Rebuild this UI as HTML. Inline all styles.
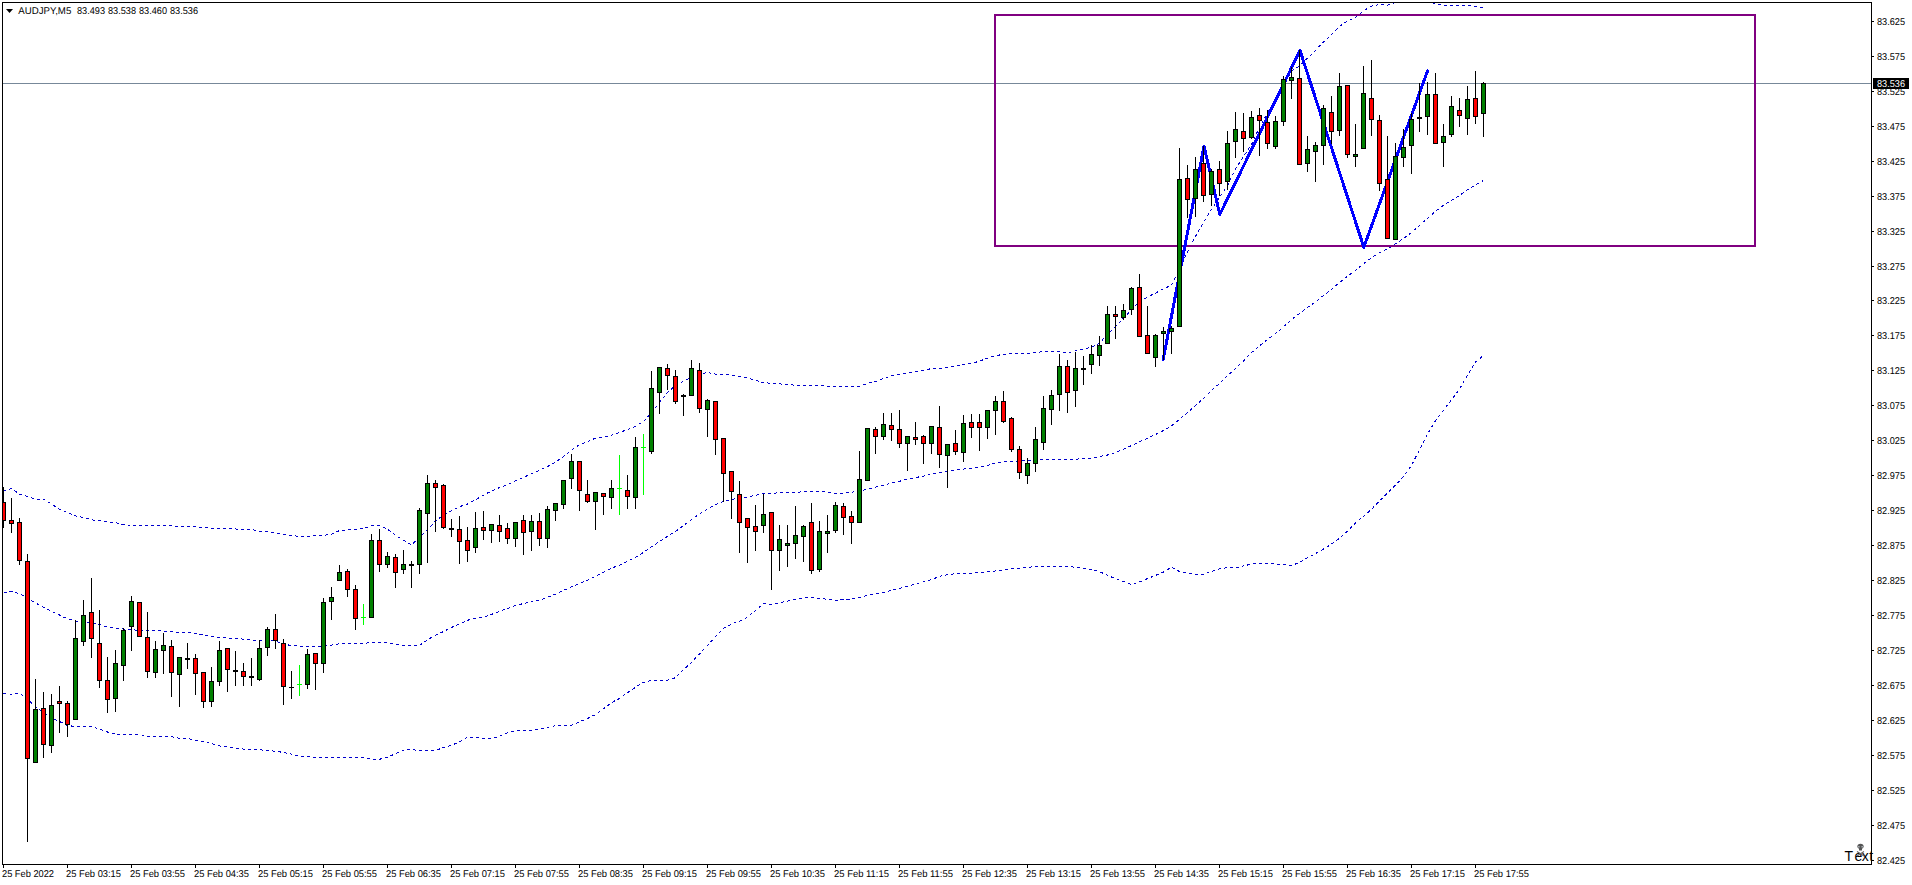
<!DOCTYPE html><html><head><meta charset="utf-8"><style>
html,body{margin:0;padding:0;background:#fff;}body{width:1912px;height:885px;overflow:hidden;position:relative;font-family:"Liberation Sans",sans-serif;}
svg{display:block;position:absolute;left:0;top:0}
.ax{font-family:"Liberation Sans",sans-serif;font-size:9.9px;fill:#000;text-rendering:geometricPrecision}
</style></head><body>
<svg width="1912" height="885" viewBox="0 0 1912 885">
<rect x="0" y="0" width="1912" height="885" fill="#fff"/>
<defs><clipPath id="c"><rect x="3" y="3" width="1868" height="861"/></clipPath></defs>
<g clip-path="url(#c)">
<path d="M3.5 491.3 L11.5 488.6 L19.5 494.1 L27.5 496.4 L35.5 499.1 L43.5 499.3 L51.5 504.1 L59.5 509.1 L67.5 512.4 L75.5 515.9 L83.5 517.4 L91.5 519.8 L99.5 520.8 L107.5 521.7 L115.5 522.6 L123.5 524.5 L131.5 525.5 L139.5 525.5 L147.5 525.5 L155.5 525.5 L163.5 525.5 L171.5 525.9 L179.5 526.5 L187.5 526.8 L195.5 527.0 L203.5 527.3 L211.5 528.4 L219.5 528.6 L227.5 528.8 L235.5 529.0 L243.5 529.2 L251.5 529.4 L259.5 531.2 L267.5 531.5 L275.5 533.0 L283.5 534.2 L291.5 535.8 L299.5 536.2 L307.5 536.1 L315.5 535.9 L323.5 535.4 L331.5 534.2 L339.5 530.5 L347.5 529.8 L355.5 529.6 L363.5 528.6 L371.5 525.9 L379.5 525.4 L387.5 529.3 L395.5 535.3 L403.5 540.3 L411.5 544.8 L419.5 537.8 L427.5 529.6 L435.5 521.0 L443.5 515.2 L451.5 510.7 L459.5 506.7 L467.5 504.0 L475.5 499.8 L483.5 495.1 L491.5 490.9 L499.5 487.6 L507.5 484.7 L515.5 480.9 L523.5 477.5 L531.5 473.6 L539.5 470.3 L547.5 466.5 L555.5 462.2 L563.5 456.5 L571.5 449.9 L579.5 444.6 L587.5 441.5 L595.5 438.2 L603.5 436.9 L611.5 435.3 L619.5 432.3 L627.5 429.7 L635.5 426.2 L643.5 421.6 L651.5 412.8 L659.5 402.6 L667.5 392.3 L675.5 385.6 L683.5 381.3 L691.5 376.9 L699.5 374.1 L707.5 372.5 L715.5 374.1 L723.5 374.5 L731.5 375.3 L739.5 376.4 L747.5 377.7 L755.5 380.4 L763.5 382.6 L771.5 383.4 L779.5 383.9 L787.5 384.6 L795.5 385.2 L803.5 385.3 L811.5 385.4 L819.5 385.5 L827.5 386.5 L835.5 386.5 L843.5 386.5 L851.5 386.5 L859.5 386.5 L867.5 383.3 L875.5 381.6 L883.5 378.5 L891.5 376.0 L899.5 374.6 L907.5 373.3 L915.5 372.0 L923.5 370.5 L931.5 368.5 L939.5 368.5 L947.5 367.5 L955.5 366.2 L963.5 364.8 L971.5 363.5 L979.5 361.1 L987.5 358.2 L995.5 355.7 L1003.5 354.3 L1011.5 353.4 L1019.5 353.2 L1027.5 353.2 L1035.5 352.8 L1043.5 351.5 L1051.5 351.4 L1059.5 351.4 L1067.5 352.9 L1075.5 350.8 L1083.5 348.9 L1091.5 347.3 L1099.5 343.1 L1107.5 334.4 L1115.5 326.5 L1123.5 318.0 L1131.5 309.8 L1139.5 301.6 L1147.5 297.0 L1155.5 293.1 L1163.5 288.8 L1171.5 285.3 L1179.5 269.1 L1187.5 251.9 L1195.5 236.5 L1203.5 222.2 L1211.5 209.5 L1219.5 197.3 L1227.5 185.7 L1235.5 168.8 L1243.5 156.6 L1251.5 144.6 L1259.5 127.2 L1267.5 113.2 L1275.5 99.2 L1283.5 85.1 L1291.5 71.1 L1299.5 65.9 L1307.5 58.1 L1315.5 50.5 L1323.5 41.8 L1331.5 34.7 L1339.5 26.2 L1347.5 21.2 L1355.5 17.4 L1363.5 10.8 L1371.5 6.1 L1379.5 4.5 L1387.5 5.1 L1395.5 2.4 L1403.5 -1.6 L1411.5 -3.2 L1419.5 -3.1 L1427.5 -1.2 L1435.5 4.4 L1443.5 5.2 L1451.5 5.2 L1459.5 5.2 L1467.5 5.2 L1475.5 6.6 L1483.5 7.5" fill="none" stroke="#0000cd" stroke-width="1" stroke-dasharray="3 3" shape-rendering="crispEdges"/>
<path d="M3.5 592.3 L11.5 591.7 L19.5 593.6 L27.5 598.1 L35.5 603.0 L43.5 607.1 L51.5 611.2 L59.5 615.0 L67.5 618.9 L75.5 621.0 L83.5 621.9 L91.5 622.8 L99.5 624.5 L107.5 627.3 L115.5 628.3 L123.5 629.1 L131.5 629.5 L139.5 630.6 L147.5 630.5 L155.5 630.4 L163.5 631.1 L171.5 631.9 L179.5 632.3 L187.5 632.8 L195.5 633.3 L203.5 635.0 L211.5 636.7 L219.5 637.6 L227.5 638.0 L235.5 638.4 L243.5 639.1 L251.5 640.3 L259.5 640.3 L267.5 640.4 L275.5 641.0 L283.5 644.2 L291.5 645.5 L299.5 646.1 L307.5 646.2 L315.5 646.2 L323.5 646.0 L331.5 645.1 L339.5 643.8 L347.5 643.6 L355.5 643.6 L363.5 643.6 L371.5 642.3 L379.5 642.3 L387.5 642.3 L395.5 644.7 L403.5 645.4 L411.5 646.0 L419.5 645.4 L427.5 639.7 L435.5 635.3 L443.5 631.5 L451.5 627.4 L459.5 624.0 L467.5 620.2 L475.5 618.6 L483.5 617.2 L491.5 614.4 L499.5 611.4 L507.5 608.5 L515.5 605.6 L523.5 603.5 L531.5 601.9 L539.5 600.1 L547.5 597.3 L555.5 594.2 L563.5 590.5 L571.5 586.8 L579.5 583.5 L587.5 580.4 L595.5 576.4 L603.5 572.4 L611.5 568.2 L619.5 565.1 L627.5 561.3 L635.5 557.4 L643.5 552.4 L651.5 546.9 L659.5 541.5 L667.5 536.4 L675.5 531.4 L683.5 525.5 L691.5 519.5 L699.5 513.8 L707.5 508.9 L715.5 504.7 L723.5 501.5 L731.5 499.3 L739.5 498.3 L747.5 496.9 L755.5 495.4 L763.5 493.3 L771.5 493.3 L779.5 492.8 L787.5 492.5 L795.5 492.4 L803.5 491.7 L811.5 491.7 L819.5 491.8 L827.5 492.1 L835.5 493.2 L843.5 493.4 L851.5 492.3 L859.5 490.7 L867.5 489.4 L875.5 487.1 L883.5 485.1 L891.5 483.2 L899.5 481.3 L907.5 479.0 L915.5 477.5 L923.5 476.2 L931.5 473.9 L939.5 472.5 L947.5 471.2 L955.5 470.1 L963.5 469.1 L971.5 468.2 L979.5 466.9 L987.5 465.4 L995.5 463.2 L1003.5 461.9 L1011.5 461.4 L1019.5 460.8 L1027.5 460.4 L1035.5 459.9 L1043.5 459.3 L1051.5 459.3 L1059.5 459.3 L1067.5 459.3 L1075.5 459.3 L1083.5 458.3 L1091.5 458.1 L1099.5 456.4 L1107.5 455.0 L1115.5 452.4 L1123.5 449.3 L1131.5 445.5 L1139.5 441.8 L1147.5 438.3 L1155.5 434.5 L1163.5 430.5 L1171.5 425.7 L1179.5 419.4 L1187.5 412.6 L1195.5 405.3 L1203.5 398.4 L1211.5 390.6 L1219.5 383.4 L1227.5 375.8 L1235.5 368.3 L1243.5 360.9 L1251.5 352.6 L1259.5 345.9 L1267.5 339.4 L1275.5 333.7 L1283.5 326.7 L1291.5 319.7 L1299.5 313.4 L1307.5 307.4 L1315.5 302.0 L1323.5 295.5 L1331.5 289.4 L1339.5 282.6 L1347.5 276.3 L1355.5 270.5 L1363.5 263.7 L1371.5 257.7 L1379.5 252.8 L1387.5 248.9 L1395.5 243.9 L1403.5 238.4 L1411.5 232.5 L1419.5 225.4 L1427.5 218.3 L1435.5 211.3 L1443.5 205.2 L1451.5 200.5 L1459.5 195.3 L1467.5 189.9 L1475.5 184.9 L1483.5 180.5" fill="none" stroke="#0000cd" stroke-width="1" stroke-dasharray="3 3" shape-rendering="crispEdges"/>
<path d="M3.5 693.4 L11.5 694.1 L19.5 692.7 L27.5 699.2 L35.5 706.7 L43.5 712.8 L51.5 717.9 L59.5 721.5 L67.5 725.6 L75.5 726.4 L83.5 726.4 L91.5 726.4 L99.5 729.2 L107.5 732.0 L115.5 734.2 L123.5 734.4 L131.5 734.4 L139.5 734.4 L147.5 736.5 L155.5 736.5 L163.5 736.5 L171.5 736.8 L179.5 738.2 L187.5 738.2 L195.5 740.5 L203.5 741.7 L211.5 743.5 L219.5 746.0 L227.5 747.1 L235.5 748.2 L243.5 749.1 L251.5 749.6 L259.5 749.7 L267.5 750.6 L275.5 751.2 L283.5 752.5 L291.5 754.1 L299.5 756.1 L307.5 756.5 L315.5 757.4 L323.5 757.5 L331.5 757.5 L339.5 757.5 L347.5 757.5 L355.5 757.5 L363.5 758.0 L371.5 759.3 L379.5 759.3 L387.5 757.1 L395.5 753.7 L403.5 750.3 L411.5 749.2 L419.5 751.0 L427.5 750.4 L435.5 750.6 L443.5 747.5 L451.5 745.2 L459.5 742.1 L467.5 737.3 L475.5 737.4 L483.5 738.4 L491.5 738.4 L499.5 736.3 L507.5 732.6 L515.5 730.7 L523.5 730.3 L531.5 730.3 L539.5 729.3 L547.5 727.3 L555.5 725.7 L563.5 725.2 L571.5 725.2 L579.5 721.9 L587.5 718.5 L595.5 714.6 L603.5 708.8 L611.5 702.6 L619.5 698.5 L627.5 692.7 L635.5 687.3 L643.5 682.3 L651.5 680.3 L659.5 680.1 L667.5 680.1 L675.5 677.7 L683.5 669.7 L691.5 662.4 L699.5 654.0 L707.5 645.6 L715.5 636.6 L723.5 628.5 L731.5 624.0 L739.5 621.1 L747.5 617.1 L755.5 610.4 L763.5 603.8 L771.5 604.4 L779.5 602.8 L787.5 601.1 L795.5 599.1 L803.5 597.8 L811.5 597.5 L819.5 598.4 L827.5 599.3 L835.5 600.3 L843.5 599.5 L851.5 599.1 L859.5 597.4 L867.5 595.3 L875.5 593.6 L883.5 592.3 L891.5 590.4 L899.5 588.3 L907.5 586.3 L915.5 584.0 L923.5 581.9 L931.5 579.7 L939.5 576.3 L947.5 574.7 L955.5 573.7 L963.5 573.3 L971.5 573.3 L979.5 572.5 L987.5 571.8 L995.5 571.0 L1003.5 569.7 L1011.5 568.4 L1019.5 568.1 L1027.5 567.4 L1035.5 566.5 L1043.5 567.0 L1051.5 566.6 L1059.5 566.5 L1067.5 566.5 L1075.5 567.2 L1083.5 568.3 L1091.5 569.6 L1099.5 571.6 L1107.5 575.3 L1115.5 578.8 L1123.5 581.5 L1131.5 584.4 L1139.5 582.0 L1147.5 578.6 L1155.5 575.5 L1163.5 572.0 L1171.5 567.1 L1179.5 571.5 L1187.5 573.1 L1195.5 574.6 L1203.5 574.2 L1211.5 571.5 L1219.5 568.8 L1227.5 567.7 L1235.5 567.9 L1243.5 565.9 L1251.5 564.1 L1259.5 563.4 L1267.5 563.4 L1275.5 563.8 L1283.5 564.7 L1291.5 565.8 L1299.5 562.3 L1307.5 557.9 L1315.5 553.6 L1323.5 549.0 L1331.5 544.1 L1339.5 538.4 L1347.5 531.1 L1355.5 522.8 L1363.5 516.4 L1371.5 509.4 L1379.5 500.8 L1387.5 493.1 L1395.5 485.1 L1403.5 476.6 L1411.5 465.5 L1419.5 449.7 L1427.5 434.2 L1435.5 420.7 L1443.5 410.1 L1451.5 399.8 L1459.5 389.1 L1467.5 375.1 L1475.5 362.1 L1483.5 355.4" fill="none" stroke="#0000cd" stroke-width="1" stroke-dasharray="3 3" shape-rendering="crispEdges"/>
<rect x="3" y="83" width="1868" height="1" fill="#778899"/>
<rect x="995" y="15" width="760" height="231" fill="none" stroke="#800080" stroke-width="2" shape-rendering="crispEdges"/>
<polyline points="1163.2,359.5 1204.0,146.1 1219.8,214.5 1300.0,50.5 1363.8,247.3 1427.5,71.0" fill="none" stroke="#0000ff" stroke-width="3" stroke-linejoin="round" stroke-linecap="round" shape-rendering="crispEdges"/>
<g shape-rendering="crispEdges">
<rect x="3" y="487" width="1" height="41" fill="#000"/>
<rect x="1" y="502" width="5" height="19" fill="#000"/>
<rect x="2" y="503" width="3" height="17" fill="#ff0000"/>
<rect x="11" y="498" width="1" height="35" fill="#000"/>
<rect x="9" y="520" width="5" height="4" fill="#000"/>
<rect x="10" y="521" width="3" height="2" fill="#ff0000"/>
<rect x="19" y="518" width="1" height="47" fill="#000"/>
<rect x="17" y="522" width="5" height="39" fill="#000"/>
<rect x="18" y="523" width="3" height="37" fill="#ff0000"/>
<rect x="27" y="554" width="1" height="288" fill="#000"/>
<rect x="25" y="561" width="5" height="198" fill="#000"/>
<rect x="26" y="562" width="3" height="196" fill="#ff0000"/>
<rect x="35" y="679" width="1" height="84" fill="#000"/>
<rect x="33" y="709" width="5" height="54" fill="#000"/>
<rect x="34" y="710" width="3" height="52" fill="#008000"/>
<rect x="43" y="692" width="1" height="66" fill="#000"/>
<rect x="41" y="708" width="5" height="37" fill="#000"/>
<rect x="42" y="709" width="3" height="35" fill="#ff0000"/>
<rect x="51" y="694" width="1" height="59" fill="#000"/>
<rect x="49" y="705" width="5" height="41" fill="#000"/>
<rect x="50" y="706" width="3" height="39" fill="#008000"/>
<rect x="59" y="686" width="1" height="47" fill="#000"/>
<rect x="57" y="701" width="5" height="3" fill="#000"/>
<rect x="58" y="702" width="3" height="1" fill="#ff0000"/>
<rect x="67" y="701" width="1" height="36" fill="#000"/>
<rect x="65" y="703" width="5" height="22" fill="#000"/>
<rect x="66" y="704" width="3" height="20" fill="#ff0000"/>
<rect x="75" y="620" width="1" height="100" fill="#000"/>
<rect x="73" y="638" width="5" height="82" fill="#000"/>
<rect x="74" y="639" width="3" height="80" fill="#008000"/>
<rect x="83" y="600" width="1" height="46" fill="#000"/>
<rect x="81" y="615" width="5" height="27" fill="#000"/>
<rect x="82" y="616" width="3" height="25" fill="#008000"/>
<rect x="91" y="578" width="1" height="80" fill="#000"/>
<rect x="89" y="612" width="5" height="27" fill="#000"/>
<rect x="90" y="613" width="3" height="25" fill="#ff0000"/>
<rect x="99" y="610" width="1" height="78" fill="#000"/>
<rect x="97" y="643" width="5" height="38" fill="#000"/>
<rect x="98" y="644" width="3" height="36" fill="#ff0000"/>
<rect x="107" y="657" width="1" height="56" fill="#000"/>
<rect x="105" y="680" width="5" height="20" fill="#000"/>
<rect x="106" y="681" width="3" height="18" fill="#ff0000"/>
<rect x="115" y="650" width="1" height="62" fill="#000"/>
<rect x="113" y="663" width="5" height="36" fill="#000"/>
<rect x="114" y="664" width="3" height="34" fill="#008000"/>
<rect x="123" y="628" width="1" height="53" fill="#000"/>
<rect x="121" y="630" width="5" height="36" fill="#000"/>
<rect x="122" y="631" width="3" height="34" fill="#008000"/>
<rect x="131" y="596" width="1" height="55" fill="#000"/>
<rect x="129" y="601" width="5" height="26" fill="#000"/>
<rect x="130" y="602" width="3" height="24" fill="#008000"/>
<rect x="139" y="602" width="1" height="35" fill="#000"/>
<rect x="137" y="602" width="5" height="35" fill="#000"/>
<rect x="138" y="603" width="3" height="33" fill="#ff0000"/>
<rect x="147" y="612" width="1" height="66" fill="#000"/>
<rect x="145" y="637" width="5" height="35" fill="#000"/>
<rect x="146" y="638" width="3" height="33" fill="#ff0000"/>
<rect x="155" y="641" width="1" height="37" fill="#000"/>
<rect x="153" y="649" width="5" height="24" fill="#000"/>
<rect x="154" y="650" width="3" height="22" fill="#008000"/>
<rect x="163" y="633" width="1" height="41" fill="#000"/>
<rect x="161" y="645" width="5" height="6" fill="#000"/>
<rect x="162" y="646" width="3" height="4" fill="#008000"/>
<rect x="171" y="640" width="1" height="57" fill="#000"/>
<rect x="169" y="646" width="5" height="27" fill="#000"/>
<rect x="170" y="647" width="3" height="25" fill="#ff0000"/>
<rect x="179" y="657" width="1" height="50" fill="#000"/>
<rect x="177" y="657" width="5" height="18" fill="#000"/>
<rect x="178" y="658" width="3" height="16" fill="#008000"/>
<rect x="187" y="643" width="1" height="26" fill="#000"/>
<rect x="185" y="658" width="5" height="2" fill="#000"/>
<rect x="195" y="654" width="1" height="41" fill="#000"/>
<rect x="193" y="658" width="5" height="16" fill="#000"/>
<rect x="194" y="659" width="3" height="14" fill="#ff0000"/>
<rect x="203" y="672" width="1" height="36" fill="#000"/>
<rect x="201" y="672" width="5" height="30" fill="#000"/>
<rect x="202" y="673" width="3" height="28" fill="#ff0000"/>
<rect x="211" y="667" width="1" height="40" fill="#000"/>
<rect x="209" y="681" width="5" height="21" fill="#000"/>
<rect x="210" y="682" width="3" height="19" fill="#008000"/>
<rect x="219" y="641" width="1" height="45" fill="#000"/>
<rect x="217" y="650" width="5" height="32" fill="#000"/>
<rect x="218" y="651" width="3" height="30" fill="#008000"/>
<rect x="227" y="648" width="1" height="44" fill="#000"/>
<rect x="225" y="648" width="5" height="22" fill="#000"/>
<rect x="226" y="649" width="3" height="20" fill="#ff0000"/>
<rect x="235" y="651" width="1" height="35" fill="#000"/>
<rect x="233" y="670" width="5" height="2" fill="#000"/>
<rect x="243" y="663" width="1" height="23" fill="#000"/>
<rect x="241" y="671" width="5" height="6" fill="#000"/>
<rect x="242" y="672" width="3" height="4" fill="#ff0000"/>
<rect x="251" y="658" width="1" height="28" fill="#000"/>
<rect x="249" y="676" width="5" height="2" fill="#000"/>
<rect x="259" y="640" width="1" height="41" fill="#000"/>
<rect x="257" y="648" width="5" height="32" fill="#000"/>
<rect x="258" y="649" width="3" height="30" fill="#008000"/>
<rect x="267" y="627" width="1" height="29" fill="#000"/>
<rect x="265" y="629" width="5" height="19" fill="#000"/>
<rect x="266" y="630" width="3" height="17" fill="#008000"/>
<rect x="275" y="614" width="1" height="35" fill="#000"/>
<rect x="273" y="629" width="5" height="12" fill="#000"/>
<rect x="274" y="630" width="3" height="10" fill="#ff0000"/>
<rect x="283" y="639" width="1" height="66" fill="#000"/>
<rect x="281" y="643" width="5" height="44" fill="#000"/>
<rect x="282" y="644" width="3" height="42" fill="#ff0000"/>
<rect x="291" y="671" width="1" height="28" fill="#000"/>
<rect x="289" y="687" width="5" height="1" fill="#000"/>
<rect x="299" y="665" width="1" height="31" fill="#00ff00"/>
<rect x="297" y="684" width="5" height="1" fill="#00ff00"/>
<rect x="307" y="649" width="1" height="40" fill="#000"/>
<rect x="305" y="654" width="5" height="31" fill="#000"/>
<rect x="306" y="655" width="3" height="29" fill="#008000"/>
<rect x="315" y="653" width="1" height="37" fill="#000"/>
<rect x="313" y="653" width="5" height="11" fill="#000"/>
<rect x="314" y="654" width="3" height="9" fill="#ff0000"/>
<rect x="323" y="598" width="1" height="75" fill="#000"/>
<rect x="321" y="602" width="5" height="62" fill="#000"/>
<rect x="322" y="603" width="3" height="60" fill="#008000"/>
<rect x="331" y="587" width="1" height="33" fill="#000"/>
<rect x="329" y="597" width="5" height="5" fill="#000"/>
<rect x="330" y="598" width="3" height="3" fill="#008000"/>
<rect x="339" y="565" width="1" height="16" fill="#000"/>
<rect x="337" y="572" width="5" height="9" fill="#000"/>
<rect x="338" y="573" width="3" height="7" fill="#008000"/>
<rect x="347" y="569" width="1" height="28" fill="#000"/>
<rect x="345" y="571" width="5" height="19" fill="#000"/>
<rect x="346" y="572" width="3" height="17" fill="#ff0000"/>
<rect x="355" y="585" width="1" height="45" fill="#000"/>
<rect x="353" y="589" width="5" height="30" fill="#000"/>
<rect x="354" y="590" width="3" height="28" fill="#ff0000"/>
<rect x="363" y="604" width="1" height="21" fill="#00ff00"/>
<rect x="361" y="617" width="5" height="1" fill="#00ff00"/>
<rect x="371" y="534" width="1" height="84" fill="#000"/>
<rect x="369" y="540" width="5" height="78" fill="#000"/>
<rect x="370" y="541" width="3" height="76" fill="#008000"/>
<rect x="379" y="529" width="1" height="43" fill="#000"/>
<rect x="377" y="540" width="5" height="25" fill="#000"/>
<rect x="378" y="541" width="3" height="23" fill="#ff0000"/>
<rect x="387" y="552" width="1" height="16" fill="#000"/>
<rect x="385" y="556" width="5" height="9" fill="#000"/>
<rect x="386" y="557" width="3" height="7" fill="#008000"/>
<rect x="395" y="554" width="1" height="34" fill="#000"/>
<rect x="393" y="557" width="5" height="16" fill="#000"/>
<rect x="394" y="558" width="3" height="14" fill="#ff0000"/>
<rect x="403" y="550" width="1" height="24" fill="#000"/>
<rect x="401" y="564" width="5" height="6" fill="#000"/>
<rect x="402" y="565" width="3" height="4" fill="#008000"/>
<rect x="411" y="561" width="1" height="27" fill="#000"/>
<rect x="409" y="564" width="5" height="2" fill="#000"/>
<rect x="419" y="508" width="1" height="66" fill="#000"/>
<rect x="417" y="510" width="5" height="55" fill="#000"/>
<rect x="418" y="511" width="3" height="53" fill="#008000"/>
<rect x="427" y="475" width="1" height="88" fill="#000"/>
<rect x="425" y="483" width="5" height="31" fill="#000"/>
<rect x="426" y="484" width="3" height="29" fill="#008000"/>
<rect x="435" y="480" width="1" height="52" fill="#000"/>
<rect x="433" y="483" width="5" height="5" fill="#000"/>
<rect x="434" y="484" width="3" height="3" fill="#ff0000"/>
<rect x="443" y="484" width="1" height="45" fill="#000"/>
<rect x="441" y="485" width="5" height="43" fill="#000"/>
<rect x="442" y="486" width="3" height="41" fill="#ff0000"/>
<rect x="451" y="519" width="1" height="18" fill="#000"/>
<rect x="449" y="528" width="5" height="2" fill="#000"/>
<rect x="459" y="516" width="1" height="48" fill="#000"/>
<rect x="457" y="529" width="5" height="13" fill="#000"/>
<rect x="458" y="530" width="3" height="11" fill="#ff0000"/>
<rect x="467" y="527" width="1" height="35" fill="#000"/>
<rect x="465" y="540" width="5" height="11" fill="#000"/>
<rect x="466" y="541" width="3" height="9" fill="#ff0000"/>
<rect x="475" y="512" width="1" height="41" fill="#000"/>
<rect x="473" y="528" width="5" height="20" fill="#000"/>
<rect x="474" y="529" width="3" height="18" fill="#008000"/>
<rect x="483" y="511" width="1" height="29" fill="#000"/>
<rect x="481" y="527" width="5" height="4" fill="#000"/>
<rect x="482" y="528" width="3" height="2" fill="#ff0000"/>
<rect x="491" y="524" width="1" height="19" fill="#000"/>
<rect x="489" y="524" width="5" height="7" fill="#000"/>
<rect x="490" y="525" width="3" height="5" fill="#008000"/>
<rect x="499" y="515" width="1" height="27" fill="#000"/>
<rect x="497" y="525" width="5" height="7" fill="#000"/>
<rect x="498" y="526" width="3" height="5" fill="#ff0000"/>
<rect x="507" y="523" width="1" height="21" fill="#000"/>
<rect x="505" y="528" width="5" height="11" fill="#000"/>
<rect x="506" y="529" width="3" height="9" fill="#ff0000"/>
<rect x="515" y="522" width="1" height="25" fill="#000"/>
<rect x="513" y="522" width="5" height="17" fill="#000"/>
<rect x="514" y="523" width="3" height="15" fill="#008000"/>
<rect x="523" y="515" width="1" height="40" fill="#000"/>
<rect x="521" y="520" width="5" height="13" fill="#000"/>
<rect x="522" y="521" width="3" height="11" fill="#ff0000"/>
<rect x="531" y="515" width="1" height="36" fill="#000"/>
<rect x="529" y="521" width="5" height="11" fill="#000"/>
<rect x="530" y="522" width="3" height="9" fill="#008000"/>
<rect x="539" y="513" width="1" height="33" fill="#000"/>
<rect x="537" y="521" width="5" height="18" fill="#000"/>
<rect x="538" y="522" width="3" height="16" fill="#ff0000"/>
<rect x="547" y="506" width="1" height="42" fill="#000"/>
<rect x="545" y="509" width="5" height="30" fill="#000"/>
<rect x="546" y="510" width="3" height="28" fill="#008000"/>
<rect x="555" y="503" width="1" height="18" fill="#000"/>
<rect x="553" y="503" width="5" height="8" fill="#000"/>
<rect x="554" y="504" width="3" height="6" fill="#008000"/>
<rect x="563" y="480" width="1" height="29" fill="#000"/>
<rect x="561" y="480" width="5" height="25" fill="#000"/>
<rect x="562" y="481" width="3" height="23" fill="#008000"/>
<rect x="571" y="454" width="1" height="35" fill="#000"/>
<rect x="569" y="461" width="5" height="18" fill="#000"/>
<rect x="570" y="462" width="3" height="16" fill="#008000"/>
<rect x="579" y="461" width="1" height="50" fill="#000"/>
<rect x="577" y="461" width="5" height="30" fill="#000"/>
<rect x="578" y="462" width="3" height="28" fill="#ff0000"/>
<rect x="587" y="480" width="1" height="23" fill="#000"/>
<rect x="585" y="494" width="5" height="8" fill="#000"/>
<rect x="586" y="495" width="3" height="6" fill="#ff0000"/>
<rect x="595" y="492" width="1" height="38" fill="#000"/>
<rect x="593" y="492" width="5" height="10" fill="#000"/>
<rect x="594" y="493" width="3" height="8" fill="#008000"/>
<rect x="603" y="493" width="1" height="22" fill="#000"/>
<rect x="601" y="493" width="5" height="4" fill="#000"/>
<rect x="602" y="494" width="3" height="2" fill="#ff0000"/>
<rect x="611" y="480" width="1" height="29" fill="#000"/>
<rect x="609" y="488" width="5" height="10" fill="#000"/>
<rect x="610" y="489" width="3" height="8" fill="#008000"/>
<rect x="619" y="455" width="1" height="60" fill="#00ff00"/>
<rect x="617" y="488" width="5" height="1" fill="#00ff00"/>
<rect x="627" y="475" width="1" height="34" fill="#000"/>
<rect x="625" y="490" width="5" height="7" fill="#000"/>
<rect x="626" y="491" width="3" height="5" fill="#ff0000"/>
<rect x="635" y="437" width="1" height="72" fill="#000"/>
<rect x="633" y="447" width="5" height="51" fill="#000"/>
<rect x="634" y="448" width="3" height="49" fill="#008000"/>
<rect x="643" y="434" width="1" height="61" fill="#00ff00"/>
<rect x="641" y="447" width="5" height="1" fill="#00ff00"/>
<rect x="651" y="371" width="1" height="83" fill="#000"/>
<rect x="649" y="388" width="5" height="64" fill="#000"/>
<rect x="650" y="389" width="3" height="62" fill="#008000"/>
<rect x="659" y="367" width="1" height="47" fill="#000"/>
<rect x="657" y="367" width="5" height="26" fill="#000"/>
<rect x="658" y="368" width="3" height="24" fill="#008000"/>
<rect x="667" y="364" width="1" height="26" fill="#000"/>
<rect x="665" y="368" width="5" height="8" fill="#000"/>
<rect x="666" y="369" width="3" height="6" fill="#ff0000"/>
<rect x="675" y="370" width="1" height="34" fill="#000"/>
<rect x="673" y="376" width="5" height="26" fill="#000"/>
<rect x="674" y="377" width="3" height="24" fill="#ff0000"/>
<rect x="683" y="394" width="1" height="22" fill="#000"/>
<rect x="681" y="395" width="5" height="2" fill="#000"/>
<rect x="691" y="360" width="1" height="36" fill="#000"/>
<rect x="689" y="368" width="5" height="28" fill="#000"/>
<rect x="690" y="369" width="3" height="26" fill="#008000"/>
<rect x="699" y="363" width="1" height="50" fill="#000"/>
<rect x="697" y="370" width="5" height="39" fill="#000"/>
<rect x="698" y="371" width="3" height="37" fill="#ff0000"/>
<rect x="707" y="399" width="1" height="38" fill="#000"/>
<rect x="705" y="400" width="5" height="10" fill="#000"/>
<rect x="706" y="401" width="3" height="8" fill="#008000"/>
<rect x="715" y="401" width="1" height="54" fill="#000"/>
<rect x="713" y="401" width="5" height="39" fill="#000"/>
<rect x="714" y="402" width="3" height="37" fill="#ff0000"/>
<rect x="723" y="438" width="1" height="64" fill="#000"/>
<rect x="721" y="438" width="5" height="36" fill="#000"/>
<rect x="722" y="439" width="3" height="34" fill="#ff0000"/>
<rect x="731" y="471" width="1" height="48" fill="#000"/>
<rect x="729" y="471" width="5" height="21" fill="#000"/>
<rect x="730" y="472" width="3" height="19" fill="#ff0000"/>
<rect x="739" y="481" width="1" height="72" fill="#000"/>
<rect x="737" y="494" width="5" height="29" fill="#000"/>
<rect x="738" y="495" width="3" height="27" fill="#ff0000"/>
<rect x="747" y="518" width="1" height="45" fill="#000"/>
<rect x="745" y="518" width="5" height="10" fill="#000"/>
<rect x="746" y="519" width="3" height="8" fill="#ff0000"/>
<rect x="755" y="505" width="1" height="46" fill="#000"/>
<rect x="753" y="526" width="5" height="6" fill="#000"/>
<rect x="754" y="527" width="3" height="4" fill="#ff0000"/>
<rect x="763" y="494" width="1" height="39" fill="#000"/>
<rect x="761" y="514" width="5" height="12" fill="#000"/>
<rect x="762" y="515" width="3" height="10" fill="#008000"/>
<rect x="771" y="512" width="1" height="78" fill="#000"/>
<rect x="769" y="512" width="5" height="39" fill="#000"/>
<rect x="770" y="513" width="3" height="37" fill="#ff0000"/>
<rect x="779" y="525" width="1" height="46" fill="#000"/>
<rect x="777" y="539" width="5" height="12" fill="#000"/>
<rect x="778" y="540" width="3" height="10" fill="#008000"/>
<rect x="787" y="525" width="1" height="42" fill="#000"/>
<rect x="785" y="543" width="5" height="3" fill="#000"/>
<rect x="786" y="544" width="3" height="1" fill="#008000"/>
<rect x="795" y="506" width="1" height="53" fill="#000"/>
<rect x="793" y="535" width="5" height="9" fill="#000"/>
<rect x="794" y="536" width="3" height="7" fill="#008000"/>
<rect x="803" y="525" width="1" height="37" fill="#000"/>
<rect x="801" y="526" width="5" height="11" fill="#000"/>
<rect x="802" y="527" width="3" height="9" fill="#008000"/>
<rect x="811" y="503" width="1" height="71" fill="#000"/>
<rect x="809" y="522" width="5" height="49" fill="#000"/>
<rect x="810" y="523" width="3" height="47" fill="#ff0000"/>
<rect x="819" y="521" width="1" height="51" fill="#000"/>
<rect x="817" y="531" width="5" height="39" fill="#000"/>
<rect x="818" y="532" width="3" height="37" fill="#008000"/>
<rect x="827" y="515" width="1" height="38" fill="#000"/>
<rect x="825" y="531" width="5" height="3" fill="#000"/>
<rect x="826" y="532" width="3" height="1" fill="#008000"/>
<rect x="835" y="502" width="1" height="31" fill="#000"/>
<rect x="833" y="505" width="5" height="26" fill="#000"/>
<rect x="834" y="506" width="3" height="24" fill="#008000"/>
<rect x="843" y="503" width="1" height="32" fill="#000"/>
<rect x="841" y="506" width="5" height="12" fill="#000"/>
<rect x="842" y="507" width="3" height="10" fill="#ff0000"/>
<rect x="851" y="511" width="1" height="33" fill="#000"/>
<rect x="849" y="516" width="5" height="7" fill="#000"/>
<rect x="850" y="517" width="3" height="5" fill="#ff0000"/>
<rect x="859" y="451" width="1" height="72" fill="#000"/>
<rect x="857" y="479" width="5" height="44" fill="#000"/>
<rect x="858" y="480" width="3" height="42" fill="#008000"/>
<rect x="867" y="428" width="1" height="53" fill="#000"/>
<rect x="865" y="428" width="5" height="53" fill="#000"/>
<rect x="866" y="429" width="3" height="51" fill="#008000"/>
<rect x="875" y="427" width="1" height="27" fill="#000"/>
<rect x="873" y="429" width="5" height="8" fill="#000"/>
<rect x="874" y="430" width="3" height="6" fill="#ff0000"/>
<rect x="883" y="413" width="1" height="27" fill="#000"/>
<rect x="881" y="424" width="5" height="13" fill="#000"/>
<rect x="882" y="425" width="3" height="11" fill="#008000"/>
<rect x="891" y="413" width="1" height="28" fill="#000"/>
<rect x="889" y="425" width="5" height="5" fill="#000"/>
<rect x="890" y="426" width="3" height="3" fill="#ff0000"/>
<rect x="899" y="410" width="1" height="38" fill="#000"/>
<rect x="897" y="429" width="5" height="15" fill="#000"/>
<rect x="898" y="430" width="3" height="13" fill="#ff0000"/>
<rect x="907" y="436" width="1" height="35" fill="#000"/>
<rect x="905" y="436" width="5" height="8" fill="#000"/>
<rect x="906" y="437" width="3" height="6" fill="#008000"/>
<rect x="915" y="422" width="1" height="23" fill="#000"/>
<rect x="913" y="437" width="5" height="3" fill="#000"/>
<rect x="914" y="438" width="3" height="1" fill="#ff0000"/>
<rect x="923" y="435" width="1" height="29" fill="#000"/>
<rect x="921" y="436" width="5" height="8" fill="#000"/>
<rect x="922" y="437" width="3" height="6" fill="#ff0000"/>
<rect x="931" y="426" width="1" height="28" fill="#000"/>
<rect x="929" y="426" width="5" height="18" fill="#000"/>
<rect x="930" y="427" width="3" height="16" fill="#008000"/>
<rect x="939" y="406" width="1" height="62" fill="#000"/>
<rect x="937" y="427" width="5" height="28" fill="#000"/>
<rect x="938" y="428" width="3" height="26" fill="#ff0000"/>
<rect x="947" y="444" width="1" height="44" fill="#000"/>
<rect x="945" y="444" width="5" height="12" fill="#000"/>
<rect x="946" y="445" width="3" height="10" fill="#008000"/>
<rect x="955" y="430" width="1" height="25" fill="#000"/>
<rect x="953" y="443" width="5" height="9" fill="#000"/>
<rect x="954" y="444" width="3" height="7" fill="#ff0000"/>
<rect x="963" y="415" width="1" height="47" fill="#000"/>
<rect x="961" y="423" width="5" height="30" fill="#000"/>
<rect x="962" y="424" width="3" height="28" fill="#008000"/>
<rect x="971" y="414" width="1" height="24" fill="#000"/>
<rect x="969" y="422" width="5" height="6" fill="#000"/>
<rect x="970" y="423" width="3" height="4" fill="#ff0000"/>
<rect x="979" y="414" width="1" height="37" fill="#000"/>
<rect x="977" y="422" width="5" height="6" fill="#000"/>
<rect x="978" y="423" width="3" height="4" fill="#ff0000"/>
<rect x="987" y="410" width="1" height="29" fill="#000"/>
<rect x="985" y="410" width="5" height="18" fill="#000"/>
<rect x="986" y="411" width="3" height="16" fill="#008000"/>
<rect x="995" y="396" width="1" height="39" fill="#000"/>
<rect x="993" y="401" width="5" height="10" fill="#000"/>
<rect x="994" y="402" width="3" height="8" fill="#008000"/>
<rect x="1003" y="391" width="1" height="32" fill="#000"/>
<rect x="1001" y="401" width="5" height="21" fill="#000"/>
<rect x="1002" y="402" width="3" height="19" fill="#ff0000"/>
<rect x="1011" y="417" width="1" height="35" fill="#000"/>
<rect x="1009" y="418" width="5" height="32" fill="#000"/>
<rect x="1010" y="419" width="3" height="30" fill="#ff0000"/>
<rect x="1019" y="446" width="1" height="33" fill="#000"/>
<rect x="1017" y="449" width="5" height="24" fill="#000"/>
<rect x="1018" y="450" width="3" height="22" fill="#ff0000"/>
<rect x="1027" y="458" width="1" height="26" fill="#000"/>
<rect x="1025" y="463" width="5" height="13" fill="#000"/>
<rect x="1026" y="464" width="3" height="11" fill="#008000"/>
<rect x="1035" y="427" width="1" height="45" fill="#000"/>
<rect x="1033" y="439" width="5" height="25" fill="#000"/>
<rect x="1034" y="440" width="3" height="23" fill="#008000"/>
<rect x="1043" y="396" width="1" height="54" fill="#000"/>
<rect x="1041" y="408" width="5" height="35" fill="#000"/>
<rect x="1042" y="409" width="3" height="33" fill="#008000"/>
<rect x="1051" y="390" width="1" height="35" fill="#000"/>
<rect x="1049" y="395" width="5" height="15" fill="#000"/>
<rect x="1050" y="396" width="3" height="13" fill="#008000"/>
<rect x="1059" y="354" width="1" height="57" fill="#000"/>
<rect x="1057" y="366" width="5" height="29" fill="#000"/>
<rect x="1058" y="367" width="3" height="27" fill="#008000"/>
<rect x="1067" y="360" width="1" height="53" fill="#000"/>
<rect x="1065" y="366" width="5" height="27" fill="#000"/>
<rect x="1066" y="367" width="3" height="25" fill="#ff0000"/>
<rect x="1075" y="352" width="1" height="55" fill="#000"/>
<rect x="1073" y="368" width="5" height="23" fill="#000"/>
<rect x="1074" y="369" width="3" height="21" fill="#008000"/>
<rect x="1083" y="356" width="1" height="29" fill="#000"/>
<rect x="1081" y="368" width="5" height="2" fill="#000"/>
<rect x="1091" y="345" width="1" height="29" fill="#000"/>
<rect x="1089" y="354" width="5" height="11" fill="#000"/>
<rect x="1090" y="355" width="3" height="9" fill="#008000"/>
<rect x="1099" y="336" width="1" height="30" fill="#000"/>
<rect x="1097" y="345" width="5" height="11" fill="#000"/>
<rect x="1098" y="346" width="3" height="9" fill="#008000"/>
<rect x="1107" y="306" width="1" height="38" fill="#000"/>
<rect x="1105" y="314" width="5" height="30" fill="#000"/>
<rect x="1106" y="315" width="3" height="28" fill="#008000"/>
<rect x="1115" y="306" width="1" height="33" fill="#000"/>
<rect x="1113" y="314" width="5" height="3" fill="#000"/>
<rect x="1114" y="315" width="3" height="1" fill="#ff0000"/>
<rect x="1123" y="304" width="1" height="16" fill="#000"/>
<rect x="1121" y="310" width="5" height="8" fill="#000"/>
<rect x="1122" y="311" width="3" height="6" fill="#008000"/>
<rect x="1131" y="287" width="1" height="28" fill="#000"/>
<rect x="1129" y="288" width="5" height="22" fill="#000"/>
<rect x="1130" y="289" width="3" height="20" fill="#008000"/>
<rect x="1139" y="274" width="1" height="63" fill="#000"/>
<rect x="1137" y="287" width="5" height="50" fill="#000"/>
<rect x="1138" y="288" width="3" height="48" fill="#ff0000"/>
<rect x="1147" y="306" width="1" height="48" fill="#000"/>
<rect x="1145" y="335" width="5" height="19" fill="#000"/>
<rect x="1146" y="336" width="3" height="17" fill="#ff0000"/>
<rect x="1155" y="334" width="1" height="33" fill="#000"/>
<rect x="1153" y="335" width="5" height="23" fill="#000"/>
<rect x="1154" y="336" width="3" height="21" fill="#008000"/>
<rect x="1163" y="327" width="1" height="33" fill="#000"/>
<rect x="1161" y="331" width="5" height="3" fill="#000"/>
<rect x="1162" y="332" width="3" height="1" fill="#008000"/>
<rect x="1171" y="326" width="1" height="28" fill="#000"/>
<rect x="1169" y="328" width="5" height="4" fill="#000"/>
<rect x="1170" y="329" width="3" height="2" fill="#008000"/>
<rect x="1179" y="148" width="1" height="179" fill="#000"/>
<rect x="1177" y="179" width="5" height="148" fill="#000"/>
<rect x="1178" y="180" width="3" height="146" fill="#008000"/>
<rect x="1187" y="165" width="1" height="53" fill="#000"/>
<rect x="1185" y="178" width="5" height="22" fill="#000"/>
<rect x="1186" y="179" width="3" height="20" fill="#ff0000"/>
<rect x="1195" y="157" width="1" height="60" fill="#000"/>
<rect x="1193" y="169" width="5" height="30" fill="#000"/>
<rect x="1194" y="170" width="3" height="28" fill="#008000"/>
<rect x="1203" y="146" width="1" height="56" fill="#000"/>
<rect x="1201" y="163" width="5" height="33" fill="#000"/>
<rect x="1202" y="164" width="3" height="31" fill="#ff0000"/>
<rect x="1211" y="169" width="1" height="37" fill="#000"/>
<rect x="1209" y="171" width="5" height="24" fill="#000"/>
<rect x="1210" y="172" width="3" height="22" fill="#008000"/>
<rect x="1219" y="161" width="1" height="35" fill="#000"/>
<rect x="1217" y="169" width="5" height="15" fill="#000"/>
<rect x="1218" y="170" width="3" height="13" fill="#ff0000"/>
<rect x="1227" y="131" width="1" height="59" fill="#000"/>
<rect x="1225" y="143" width="5" height="39" fill="#000"/>
<rect x="1226" y="144" width="3" height="37" fill="#008000"/>
<rect x="1235" y="112" width="1" height="46" fill="#000"/>
<rect x="1233" y="129" width="5" height="13" fill="#000"/>
<rect x="1234" y="130" width="3" height="11" fill="#008000"/>
<rect x="1243" y="113" width="1" height="39" fill="#000"/>
<rect x="1241" y="131" width="5" height="8" fill="#000"/>
<rect x="1242" y="132" width="3" height="6" fill="#ff0000"/>
<rect x="1251" y="111" width="1" height="28" fill="#000"/>
<rect x="1249" y="117" width="5" height="21" fill="#000"/>
<rect x="1250" y="118" width="3" height="19" fill="#008000"/>
<rect x="1259" y="108" width="1" height="48" fill="#000"/>
<rect x="1257" y="115" width="5" height="6" fill="#000"/>
<rect x="1258" y="116" width="3" height="4" fill="#ff0000"/>
<rect x="1267" y="110" width="1" height="39" fill="#000"/>
<rect x="1265" y="122" width="5" height="22" fill="#000"/>
<rect x="1266" y="123" width="3" height="20" fill="#ff0000"/>
<rect x="1275" y="116" width="1" height="33" fill="#000"/>
<rect x="1273" y="121" width="5" height="26" fill="#000"/>
<rect x="1274" y="122" width="3" height="24" fill="#008000"/>
<rect x="1283" y="76" width="1" height="50" fill="#000"/>
<rect x="1281" y="79" width="5" height="43" fill="#000"/>
<rect x="1282" y="80" width="3" height="41" fill="#008000"/>
<rect x="1291" y="67" width="1" height="32" fill="#000"/>
<rect x="1289" y="77" width="5" height="4" fill="#000"/>
<rect x="1290" y="78" width="3" height="2" fill="#008000"/>
<rect x="1299" y="50" width="1" height="115" fill="#000"/>
<rect x="1297" y="78" width="5" height="87" fill="#000"/>
<rect x="1298" y="79" width="3" height="85" fill="#ff0000"/>
<rect x="1307" y="136" width="1" height="36" fill="#000"/>
<rect x="1305" y="149" width="5" height="15" fill="#000"/>
<rect x="1306" y="150" width="3" height="13" fill="#008000"/>
<rect x="1315" y="142" width="1" height="40" fill="#000"/>
<rect x="1313" y="145" width="5" height="7" fill="#000"/>
<rect x="1314" y="146" width="3" height="5" fill="#008000"/>
<rect x="1323" y="105" width="1" height="60" fill="#000"/>
<rect x="1321" y="108" width="5" height="38" fill="#000"/>
<rect x="1322" y="109" width="3" height="36" fill="#008000"/>
<rect x="1331" y="96" width="1" height="48" fill="#000"/>
<rect x="1329" y="112" width="5" height="20" fill="#000"/>
<rect x="1330" y="113" width="3" height="18" fill="#ff0000"/>
<rect x="1339" y="73" width="1" height="63" fill="#000"/>
<rect x="1337" y="86" width="5" height="45" fill="#000"/>
<rect x="1338" y="87" width="3" height="43" fill="#008000"/>
<rect x="1347" y="85" width="1" height="73" fill="#000"/>
<rect x="1345" y="85" width="5" height="70" fill="#000"/>
<rect x="1346" y="86" width="3" height="68" fill="#ff0000"/>
<rect x="1355" y="124" width="1" height="43" fill="#000"/>
<rect x="1353" y="154" width="5" height="3" fill="#000"/>
<rect x="1354" y="155" width="3" height="1" fill="#008000"/>
<rect x="1363" y="66" width="1" height="83" fill="#000"/>
<rect x="1361" y="93" width="5" height="56" fill="#000"/>
<rect x="1362" y="94" width="3" height="54" fill="#008000"/>
<rect x="1371" y="60" width="1" height="76" fill="#000"/>
<rect x="1369" y="98" width="5" height="22" fill="#000"/>
<rect x="1370" y="99" width="3" height="20" fill="#ff0000"/>
<rect x="1379" y="115" width="1" height="76" fill="#000"/>
<rect x="1377" y="120" width="5" height="64" fill="#000"/>
<rect x="1378" y="121" width="3" height="62" fill="#ff0000"/>
<rect x="1387" y="136" width="1" height="103" fill="#000"/>
<rect x="1385" y="179" width="5" height="60" fill="#000"/>
<rect x="1386" y="180" width="3" height="58" fill="#ff0000"/>
<rect x="1395" y="143" width="1" height="97" fill="#000"/>
<rect x="1393" y="156" width="5" height="84" fill="#000"/>
<rect x="1394" y="157" width="3" height="82" fill="#008000"/>
<rect x="1403" y="129" width="1" height="38" fill="#000"/>
<rect x="1401" y="147" width="5" height="11" fill="#000"/>
<rect x="1402" y="148" width="3" height="9" fill="#008000"/>
<rect x="1411" y="113" width="1" height="61" fill="#000"/>
<rect x="1409" y="119" width="5" height="27" fill="#000"/>
<rect x="1410" y="120" width="3" height="25" fill="#008000"/>
<rect x="1419" y="83" width="1" height="49" fill="#000"/>
<rect x="1417" y="117" width="5" height="2" fill="#000"/>
<rect x="1427" y="82" width="1" height="53" fill="#000"/>
<rect x="1425" y="94" width="5" height="23" fill="#000"/>
<rect x="1426" y="95" width="3" height="21" fill="#008000"/>
<rect x="1435" y="73" width="1" height="71" fill="#000"/>
<rect x="1433" y="94" width="5" height="50" fill="#000"/>
<rect x="1434" y="95" width="3" height="48" fill="#ff0000"/>
<rect x="1443" y="124" width="1" height="43" fill="#000"/>
<rect x="1441" y="136" width="5" height="7" fill="#000"/>
<rect x="1442" y="137" width="3" height="5" fill="#008000"/>
<rect x="1451" y="96" width="1" height="41" fill="#000"/>
<rect x="1449" y="106" width="5" height="29" fill="#000"/>
<rect x="1450" y="107" width="3" height="27" fill="#008000"/>
<rect x="1459" y="98" width="1" height="29" fill="#000"/>
<rect x="1457" y="110" width="5" height="6" fill="#000"/>
<rect x="1458" y="111" width="3" height="4" fill="#ff0000"/>
<rect x="1467" y="86" width="1" height="49" fill="#000"/>
<rect x="1465" y="99" width="5" height="20" fill="#000"/>
<rect x="1466" y="100" width="3" height="18" fill="#008000"/>
<rect x="1475" y="71" width="1" height="53" fill="#000"/>
<rect x="1473" y="98" width="5" height="19" fill="#000"/>
<rect x="1474" y="99" width="3" height="17" fill="#ff0000"/>
<rect x="1483" y="82" width="1" height="55" fill="#000"/>
<rect x="1481" y="83" width="5" height="31" fill="#000"/>
<rect x="1482" y="84" width="3" height="29" fill="#008000"/>
</g>
</g>
<text x="1844.6 1854.6 1861.8 1869.3" y="861" font-family="Liberation Sans" font-size="14px" fill="#000" style="font-kerning:none">Text</text>
<g fill="#555">
<ellipse cx="1860.5" cy="846.3" rx="3.1" ry="2.6"/>
<rect x="1859" y="847.5" width="3" height="3"/>
<rect x="1858.2" y="846.2" width="1.3" height="1.2" fill="#cfd8e0"/>
<rect x="1861.5" y="846.2" width="1.3" height="1.2" fill="#cfd8e0"/>
</g>
<path d="M1857 851.5 L1864 856 M1864 851.5 L1857 856" stroke="#666" stroke-width="1.3" fill="none"/>
<g shape-rendering="crispEdges" fill="#000">
<rect x="2" y="2" width="1870" height="1"/>
<rect x="2" y="2" width="1" height="863"/>
<rect x="1871" y="2" width="1" height="863"/>
<rect x="2" y="864" width="1870" height="1"/>
<rect x="1872" y="21" width="2" height="1"/>
<rect x="1872" y="56" width="2" height="1"/>
<rect x="1872" y="91" width="2" height="1"/>
<rect x="1872" y="126" width="2" height="1"/>
<rect x="1872" y="161" width="2" height="1"/>
<rect x="1872" y="196" width="2" height="1"/>
<rect x="1872" y="231" width="2" height="1"/>
<rect x="1872" y="266" width="2" height="1"/>
<rect x="1872" y="300" width="2" height="1"/>
<rect x="1872" y="335" width="2" height="1"/>
<rect x="1872" y="370" width="2" height="1"/>
<rect x="1872" y="405" width="2" height="1"/>
<rect x="1872" y="440" width="2" height="1"/>
<rect x="1872" y="475" width="2" height="1"/>
<rect x="1872" y="510" width="2" height="1"/>
<rect x="1872" y="545" width="2" height="1"/>
<rect x="1872" y="580" width="2" height="1"/>
<rect x="1872" y="615" width="2" height="1"/>
<rect x="1872" y="650" width="2" height="1"/>
<rect x="1872" y="685" width="2" height="1"/>
<rect x="1872" y="720" width="2" height="1"/>
<rect x="1872" y="755" width="2" height="1"/>
<rect x="1872" y="790" width="2" height="1"/>
<rect x="1872" y="825" width="2" height="1"/>
<rect x="1872" y="860" width="2" height="1"/>
<rect x="3" y="865" width="1" height="3"/>
<rect x="67" y="865" width="1" height="3"/>
<rect x="131" y="865" width="1" height="3"/>
<rect x="195" y="865" width="1" height="3"/>
<rect x="259" y="865" width="1" height="3"/>
<rect x="323" y="865" width="1" height="3"/>
<rect x="387" y="865" width="1" height="3"/>
<rect x="451" y="865" width="1" height="3"/>
<rect x="515" y="865" width="1" height="3"/>
<rect x="579" y="865" width="1" height="3"/>
<rect x="643" y="865" width="1" height="3"/>
<rect x="707" y="865" width="1" height="3"/>
<rect x="771" y="865" width="1" height="3"/>
<rect x="835" y="865" width="1" height="3"/>
<rect x="899" y="865" width="1" height="3"/>
<rect x="963" y="865" width="1" height="3"/>
<rect x="1027" y="865" width="1" height="3"/>
<rect x="1091" y="865" width="1" height="3"/>
<rect x="1155" y="865" width="1" height="3"/>
<rect x="1219" y="865" width="1" height="3"/>
<rect x="1283" y="865" width="1" height="3"/>
<rect x="1347" y="865" width="1" height="3"/>
<rect x="1411" y="865" width="1" height="3"/>
<rect x="1475" y="865" width="1" height="3"/>
</g>
<text class="ax" x="1877" y="25" textLength="28" lengthAdjust="spacingAndGlyphs">83.625</text>
<text class="ax" x="1877" y="60" textLength="28" lengthAdjust="spacingAndGlyphs">83.575</text>
<text class="ax" x="1877" y="95" textLength="28" lengthAdjust="spacingAndGlyphs">83.525</text>
<text class="ax" x="1877" y="130" textLength="28" lengthAdjust="spacingAndGlyphs">83.475</text>
<text class="ax" x="1877" y="165" textLength="28" lengthAdjust="spacingAndGlyphs">83.425</text>
<text class="ax" x="1877" y="200" textLength="28" lengthAdjust="spacingAndGlyphs">83.375</text>
<text class="ax" x="1877" y="235" textLength="28" lengthAdjust="spacingAndGlyphs">83.325</text>
<text class="ax" x="1877" y="270" textLength="28" lengthAdjust="spacingAndGlyphs">83.275</text>
<text class="ax" x="1877" y="304" textLength="28" lengthAdjust="spacingAndGlyphs">83.225</text>
<text class="ax" x="1877" y="339" textLength="28" lengthAdjust="spacingAndGlyphs">83.175</text>
<text class="ax" x="1877" y="374" textLength="28" lengthAdjust="spacingAndGlyphs">83.125</text>
<text class="ax" x="1877" y="409" textLength="28" lengthAdjust="spacingAndGlyphs">83.075</text>
<text class="ax" x="1877" y="444" textLength="28" lengthAdjust="spacingAndGlyphs">83.025</text>
<text class="ax" x="1877" y="479" textLength="28" lengthAdjust="spacingAndGlyphs">82.975</text>
<text class="ax" x="1877" y="514" textLength="28" lengthAdjust="spacingAndGlyphs">82.925</text>
<text class="ax" x="1877" y="549" textLength="28" lengthAdjust="spacingAndGlyphs">82.875</text>
<text class="ax" x="1877" y="584" textLength="28" lengthAdjust="spacingAndGlyphs">82.825</text>
<text class="ax" x="1877" y="619" textLength="28" lengthAdjust="spacingAndGlyphs">82.775</text>
<text class="ax" x="1877" y="654" textLength="28" lengthAdjust="spacingAndGlyphs">82.725</text>
<text class="ax" x="1877" y="689" textLength="28" lengthAdjust="spacingAndGlyphs">82.675</text>
<text class="ax" x="1877" y="724" textLength="28" lengthAdjust="spacingAndGlyphs">82.625</text>
<text class="ax" x="1877" y="759" textLength="28" lengthAdjust="spacingAndGlyphs">82.575</text>
<text class="ax" x="1877" y="794" textLength="28" lengthAdjust="spacingAndGlyphs">82.525</text>
<text class="ax" x="1877" y="829" textLength="28" lengthAdjust="spacingAndGlyphs">82.475</text>
<text class="ax" x="1877" y="864" textLength="28" lengthAdjust="spacingAndGlyphs">82.425</text>
<rect x="1873" y="78" width="36" height="11" fill="#000"/>
<text class="ax" x="1877" y="87" textLength="28" lengthAdjust="spacingAndGlyphs" style="fill:#fff">83.536</text>
<text class="ax" x="2" y="877" textLength="52" lengthAdjust="spacingAndGlyphs">25 Feb 2022</text>
<text class="ax" x="66" y="877" textLength="55" lengthAdjust="spacingAndGlyphs">25 Feb 03:15</text>
<text class="ax" x="130" y="877" textLength="55" lengthAdjust="spacingAndGlyphs">25 Feb 03:55</text>
<text class="ax" x="194" y="877" textLength="55" lengthAdjust="spacingAndGlyphs">25 Feb 04:35</text>
<text class="ax" x="258" y="877" textLength="55" lengthAdjust="spacingAndGlyphs">25 Feb 05:15</text>
<text class="ax" x="322" y="877" textLength="55" lengthAdjust="spacingAndGlyphs">25 Feb 05:55</text>
<text class="ax" x="386" y="877" textLength="55" lengthAdjust="spacingAndGlyphs">25 Feb 06:35</text>
<text class="ax" x="450" y="877" textLength="55" lengthAdjust="spacingAndGlyphs">25 Feb 07:15</text>
<text class="ax" x="514" y="877" textLength="55" lengthAdjust="spacingAndGlyphs">25 Feb 07:55</text>
<text class="ax" x="578" y="877" textLength="55" lengthAdjust="spacingAndGlyphs">25 Feb 08:35</text>
<text class="ax" x="642" y="877" textLength="55" lengthAdjust="spacingAndGlyphs">25 Feb 09:15</text>
<text class="ax" x="706" y="877" textLength="55" lengthAdjust="spacingAndGlyphs">25 Feb 09:55</text>
<text class="ax" x="770" y="877" textLength="55" lengthAdjust="spacingAndGlyphs">25 Feb 10:35</text>
<text class="ax" x="834" y="877" textLength="55" lengthAdjust="spacingAndGlyphs">25 Feb 11:15</text>
<text class="ax" x="898" y="877" textLength="55" lengthAdjust="spacingAndGlyphs">25 Feb 11:55</text>
<text class="ax" x="962" y="877" textLength="55" lengthAdjust="spacingAndGlyphs">25 Feb 12:35</text>
<text class="ax" x="1026" y="877" textLength="55" lengthAdjust="spacingAndGlyphs">25 Feb 13:15</text>
<text class="ax" x="1090" y="877" textLength="55" lengthAdjust="spacingAndGlyphs">25 Feb 13:55</text>
<text class="ax" x="1154" y="877" textLength="55" lengthAdjust="spacingAndGlyphs">25 Feb 14:35</text>
<text class="ax" x="1218" y="877" textLength="55" lengthAdjust="spacingAndGlyphs">25 Feb 15:15</text>
<text class="ax" x="1282" y="877" textLength="55" lengthAdjust="spacingAndGlyphs">25 Feb 15:55</text>
<text class="ax" x="1346" y="877" textLength="55" lengthAdjust="spacingAndGlyphs">25 Feb 16:35</text>
<text class="ax" x="1410" y="877" textLength="55" lengthAdjust="spacingAndGlyphs">25 Feb 17:15</text>
<text class="ax" x="1474" y="877" textLength="55" lengthAdjust="spacingAndGlyphs">25 Feb 17:55</text>
<path d="M6 9 L13 9 L9.5 13 Z" fill="#000"/>
<text class="ax" x="18.3" y="14" textLength="53" lengthAdjust="spacingAndGlyphs">AUDJPY,M5</text>
<text class="ax" x="77" y="14" textLength="28" lengthAdjust="spacingAndGlyphs">83.493</text>
<text class="ax" x="108" y="14" textLength="28" lengthAdjust="spacingAndGlyphs">83.538</text>
<text class="ax" x="139" y="14" textLength="28" lengthAdjust="spacingAndGlyphs">83.460</text>
<text class="ax" x="170" y="14" textLength="28" lengthAdjust="spacingAndGlyphs">83.536</text>
</svg></body></html>
